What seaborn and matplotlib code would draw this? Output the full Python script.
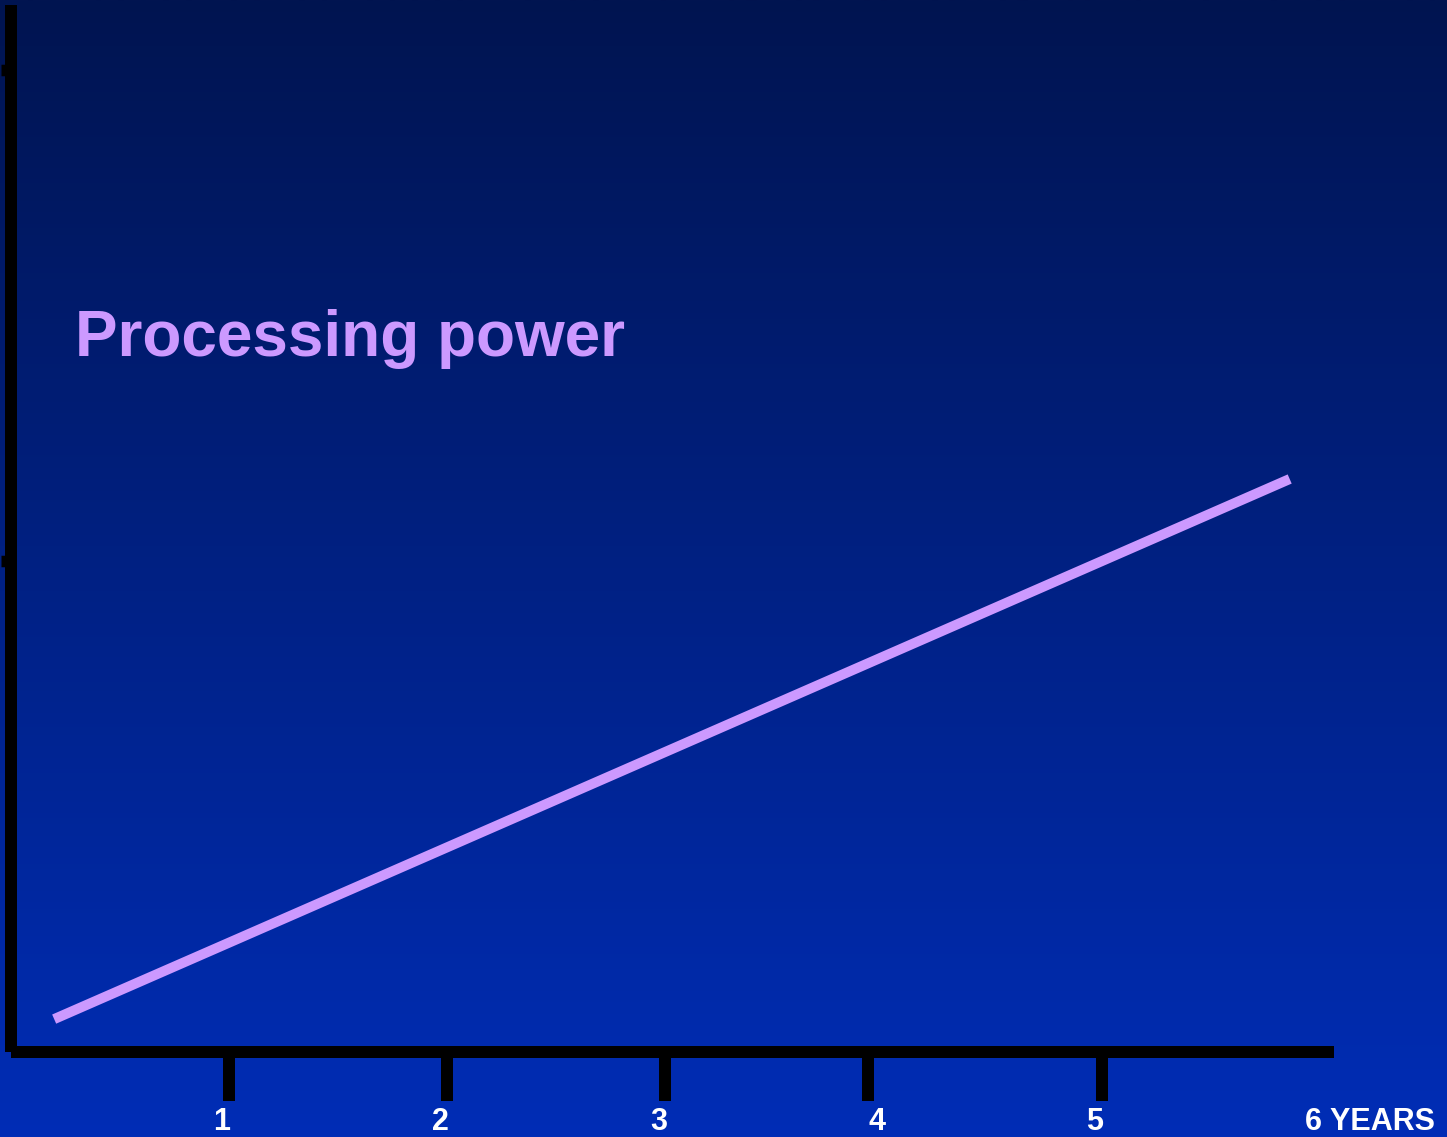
import numpy as np
import matplotlib
matplotlib.use("Agg")
import matplotlib.pyplot as plt
import matplotlib.transforms as mtransforms
import seaborn as sns

# Data: processing power rising over the years
years = [0.2, 5.86]
power = [0.067, 1.167]

# Axis decorations
tick_years = [1, 2, 3, 3.93, 5]
label_years = [1, 2, 3, 4, 5]
year_labels = ["1", "2", "3", "4", "5"]
end_year = 6
end_label = "6 YEARS"
y_ticks = [1, 2]
series_name = "Processing power"

W, H, DPI = 1447, 1137, 100
LAVENDER = "#cc99ff"

sns.set_theme(style="white")
plt.rcParams["font.family"] = ["Liberation Sans", "DejaVu Sans"]

fig = plt.figure(figsize=(W / DPI, H / DPI), dpi=DPI)

# Vertical navy-to-blue gradient backdrop
bg = fig.add_axes([0, 0, 1, 1], zorder=0)
g = np.linspace(0, 1, 512)[:, None, None]
top = np.array([1, 20, 80]) / 255
bot = np.array([0, 45, 182]) / 255
img = top + (bot - top) * g
bg.imshow(img, aspect="auto", extent=[0, 1, 0, 1], interpolation="bilinear")
bg.set_axis_off()

# Main axes
x0, x1 = 10.5, 1334
y_bot, y_top = 1052, 4.7
ax = fig.add_axes([x0 / W, (H - y_bot) / H, (x1 - x0) / W, (y_bot - y_top) / H], zorder=1)
ax.patch.set_alpha(0)
ax.set_xlim(0, 6.063)
ax.set_ylim(0, 2.133)

px = 72 / DPI
for side in ("top", "right"):
    ax.spines[side].set_visible(False)
for side in ("left", "bottom"):
    sp = ax.spines[side]
    sp.set_visible(True)
    sp.set_color("black")
    sp.set_linewidth(12 * px)
    sp.set_capstyle("butt")

ax.set_xticks(tick_years)
ax.set_yticks(y_ticks)
ax.tick_params(axis="x", bottom=True, direction="out", length=49 * px, width=12 * px,
               color="black", labelbottom=False)
ax.tick_params(axis="y", left=True, direction="out", length=10.5 * px, width=11.5 * px,
               color="black", labelleft=False)
ax.grid(False)

sns.lineplot(x=years, y=power, ax=ax, color=LAVENDER, linewidth=10 * px,
             solid_capstyle="butt")

# Year labels below the axis
label_base = (H - 1130.5) / H
base = mtransforms.blended_transform_factory(ax.transData, fig.transFigure)
lab_tr = mtransforms.offset_copy(base, fig=fig, x=-7, y=0, units="dots")
for yr, lab in zip(label_years, year_labels):
    fig.text(yr, label_base, lab, transform=lab_tr, ha="center", va="baseline",
             color="white", fontsize=22, fontweight="bold")
end_tr = mtransforms.offset_copy(base, fig=fig, x=-15, y=0, units="dots")
fig.text(end_year, label_base, end_label, transform=end_tr, ha="left", va="baseline",
         color="white", fontsize=22, fontweight="bold")

# Series caption
fig.text(75 / W, (H - 356) / H, series_name, ha="left", va="baseline",
         color=LAVENDER, fontsize=46, fontweight="bold")

fig.savefig("out.png", dpi=DPI)
